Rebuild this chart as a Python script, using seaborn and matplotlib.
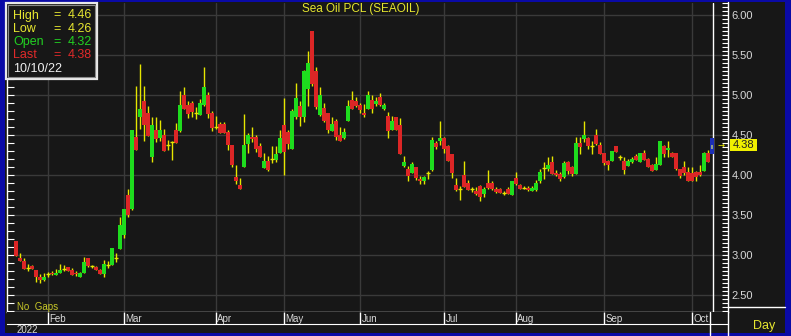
import numpy as np
import pandas as pd
import matplotlib
matplotlib.use("Agg")
import matplotlib.pyplot as plt
import seaborn as sns
from matplotlib.patches import Rectangle
from matplotlib.lines import Line2D
from matplotlib.ticker import MultipleLocator

# ---------------- data ----------------
title = "Sea Oil PCL (SEAOIL)"
holidays = ["2022-02-16", "2022-04-06", "2022-04-13", "2022-04-14", "2022-04-15",
            "2022-05-02", "2022-05-04", "2022-05-16", "2022-06-03", "2022-07-13",
            "2022-07-28", "2022-07-29", "2022-08-12"]
first_day = "2022-01-20"
last_day = "2022-10-10"

opens = [3.18, 2.96, 2.93, 2.84, 2.86, 2.81, 2.72, 2.69, 2.76, 2.78,
         2.75, 2.77, 2.82, 2.85, 2.81, 2.78, 2.73, 2.77, 2.96, 2.86,
         2.85, 2.81, 2.76, 2.88, 2.87, 2.96, 3.08, 3.25, 3.75, 3.58,
         4.47, 4.72, 4.92, 4.78, 4.23, 4.56, 4.46, 4.50, 4.38, 4.41,
         4.56, 4.55, 5.00, 4.87, 4.90, 4.77, 4.75, 4.87, 5.00, 4.77,
         4.60, 4.64, 4.64, 4.54, 4.38, 3.97, 3.88, 4.10, 4.39, 4.48,
         4.48, 4.36, 4.09, 4.18, 4.20, 4.19, 4.28, 4.63, 4.54, 4.33,
         4.72, 4.86, 4.72, 5.08, 5.80, 5.30, 4.75, 4.84, 4.77, 4.55,
         4.68, 4.50, 4.46, 4.67, 4.94, 4.93, 4.87, 4.78, 4.83, 4.94,
         4.89, 4.98, 4.83, 4.74, 4.56, 4.72, 4.63, 4.11, 4.07, 4.03,
         4.10, 3.95, 3.93, 4.02, 4.06, 4.40, 4.42, 4.46, 4.36, 4.26,
         3.88, 3.83, 4.00, 3.90, 3.82, 3.80, 3.86, 3.76, 3.90, 3.90,
         3.83, 3.83, 3.77, 3.83, 3.75, 3.96, 3.87, 3.84, 3.84, 3.80,
         3.81, 3.93, 4.09, 4.07, 4.16, 4.03, 4.01, 3.97, 4.16, 4.10,
         4.01, 4.40, 4.45, 4.46, 4.36, 4.50, 4.38, 4.27, 4.17, 4.17,
         4.36, 4.22, 4.17, 4.11, 4.16, 4.24, 4.16, 4.27, 4.20, 4.13,
         4.06, 4.12, 4.36, 4.31, 4.28, 4.27, 4.08, 4.10, 4.04, 4.02,
         4.04, 4.04, 4.05, 4.28, 4.32]
highs = [3.18, 3.03, 2.96, 2.89, 2.88, 2.81, 2.76, 2.77, 2.79, 2.80,
         2.82, 2.89, 2.87, 2.85, 2.84, 2.80, 2.79, 2.97, 2.96, 2.88,
         2.86, 2.83, 2.94, 2.92, 3.09, 3.02, 3.48, 3.58, 3.83, 4.56,
         5.11, 5.39, 5.11, 4.86, 4.72, 4.72, 4.69, 4.58, 4.44, 4.42,
         4.65, 5.05, 5.10, 4.93, 4.92, 4.85, 4.95, 5.35, 5.04, 4.80,
         4.74, 4.66, 4.66, 4.56, 4.38, 4.13, 3.96, 4.76, 4.52, 4.60,
         4.50, 4.40, 4.28, 4.24, 4.36, 4.36, 4.56, 4.96, 4.56, 4.83,
         5.15, 4.93, 5.31, 5.55, 5.80, 5.35, 5.10, 4.90, 4.78, 4.73,
         4.70, 4.60, 4.59, 4.94, 5.05, 4.98, 4.90, 4.89, 5.05, 5.00,
         4.98, 5.03, 4.90, 4.79, 4.74, 4.73, 4.71, 4.24, 4.11, 4.16,
         4.10, 3.99, 3.99, 4.05, 4.48, 4.42, 4.68, 4.47, 4.38, 4.26,
         3.96, 3.86, 4.18, 3.94, 3.85, 3.85, 3.87, 3.85, 4.06, 3.92,
         3.85, 3.84, 3.80, 3.85, 3.93, 4.04, 3.89, 3.86, 3.86, 3.86,
         3.94, 4.08, 4.16, 4.23, 4.24, 4.06, 4.04, 4.18, 4.18, 4.11,
         4.48, 4.48, 4.68, 4.48, 4.43, 4.57, 4.41, 4.28, 4.19, 4.30,
         4.36, 4.25, 4.23, 4.20, 4.23, 4.26, 4.27, 4.31, 4.21, 4.14,
         4.23, 4.43, 4.37, 4.43, 4.29, 4.28, 4.08, 4.18, 4.10, 4.10,
         4.05, 4.13, 4.29, 4.31, 4.46]
lows = [2.99, 2.92, 2.82, 2.80, 2.82, 2.66, 2.65, 2.68, 2.72, 2.75,
        2.75, 2.77, 2.80, 2.80, 2.75, 2.74, 2.73, 2.77, 2.85, 2.84,
        2.81, 2.76, 2.73, 2.84, 2.87, 2.91, 3.07, 3.21, 3.48, 3.56,
        4.31, 4.58, 4.42, 4.49, 4.16, 4.41, 4.42, 4.30, 4.31, 4.19,
        4.40, 4.54, 4.82, 4.71, 4.72, 4.70, 4.75, 4.86, 4.71, 4.55,
        4.57, 4.53, 4.53, 4.31, 4.10, 3.89, 3.83, 4.10, 4.27, 4.41,
        4.29, 4.22, 4.09, 4.05, 4.15, 4.16, 4.27, 4.00, 4.33, 4.33,
        4.70, 4.61, 4.66, 4.86, 5.11, 4.82, 4.74, 4.66, 4.53, 4.55,
        4.44, 4.43, 4.45, 4.67, 4.82, 4.85, 4.78, 4.72, 4.83, 4.78,
        4.86, 4.86, 4.81, 4.46, 4.56, 4.56, 4.26, 4.10, 3.93, 4.03,
        3.94, 3.89, 3.89, 3.95, 4.05, 4.32, 4.38, 4.28, 4.17, 3.96,
        3.80, 3.69, 3.85, 3.81, 3.79, 3.75, 3.67, 3.73, 3.83, 3.81,
        3.78, 3.77, 3.75, 3.76, 3.75, 3.88, 3.82, 3.82, 3.80, 3.80,
        3.80, 3.90, 3.95, 4.05, 4.01, 3.99, 3.93, 3.96, 4.01, 3.99,
        4.01, 4.26, 4.41, 4.33, 4.26, 4.38, 4.26, 4.13, 4.06, 4.17,
        4.29, 4.19, 4.01, 4.11, 4.15, 4.19, 4.16, 4.19, 4.10, 4.05,
        4.06, 4.12, 4.22, 4.22, 4.23, 4.06, 3.96, 4.00, 3.92, 3.92,
        3.93, 3.99, 4.05, 4.16, 4.26]
closes = [2.99, 2.93, 2.83, 2.84, 2.82, 2.72, 2.69, 2.73, 2.76, 2.76,
          2.78, 2.81, 2.82, 2.80, 2.75, 2.76, 2.78, 2.91, 2.86, 2.86,
          2.81, 2.76, 2.89, 2.88, 3.09, 2.96, 3.38, 3.58, 3.50, 4.56,
          4.31, 4.82, 4.62, 4.49, 4.62, 4.45, 4.56, 4.30, 4.38, 4.41,
          4.40, 4.88, 4.83, 4.76, 4.79, 4.77, 4.90, 5.10, 4.76, 4.59,
          4.60, 4.53, 4.53, 4.37, 4.12, 3.92, 3.83, 4.38, 4.50, 4.45,
          4.32, 4.23, 4.18, 4.06, 4.20, 4.26, 4.46, 4.29, 4.39, 4.80,
          4.96, 4.72, 5.30, 5.40, 5.14, 4.85, 5.00, 4.67, 4.56, 4.64,
          4.47, 4.43, 4.54, 4.86, 4.82, 4.86, 4.81, 4.75, 5.00, 4.82,
          4.93, 4.87, 4.88, 4.55, 4.68, 4.56, 4.26, 4.16, 3.99, 4.14,
          3.96, 3.92, 3.97, 4.02, 4.44, 4.35, 4.46, 4.32, 4.17, 4.03,
          3.81, 3.83, 3.85, 3.81, 3.82, 3.76, 3.72, 3.83, 3.84, 3.82,
          3.79, 3.77, 3.77, 3.76, 3.93, 3.89, 3.83, 3.84, 3.81, 3.84,
          3.90, 4.04, 4.09, 4.13, 4.01, 4.00, 3.95, 4.15, 4.05, 4.01,
          4.40, 4.35, 4.50, 4.36, 4.36, 4.39, 4.26, 4.15, 4.13, 4.30,
          4.29, 4.22, 4.06, 4.17, 4.20, 4.19, 4.27, 4.19, 4.10, 4.05,
          4.14, 4.43, 4.26, 4.34, 4.23, 4.08, 3.99, 4.02, 3.93, 3.93,
          3.98, 4.00, 4.28, 4.16, 4.38]
price_ticks = [2.5, 3.0, 3.5, 4.0, 4.5, 5.0, 5.5, 6.0]

dates = pd.bdate_range(first_day, last_day, freq="C", holidays=holidays)
assert len(dates) == len(opens) == len(highs) == len(lows) == len(closes)

# ---------------- style ----------------
BLUE = "#0a0aa6"
BG = "#171717"
GRID = "#3a3a3a"
GREEN = "#1edc1e"
RED = "#dc2626"
WICK = "#e6e600"
TXT = "#d8d8d8"

sns.set_style("dark", rc={"axes.facecolor": BG, "figure.facecolor": BLUE,
                          "grid.color": GRID})
plt.rcParams["font.family"] = ["Liberation Sans", "DejaVu Sans"]

W, H = 791, 336
fig = plt.figure(figsize=(W / 100, H / 100), dpi=100, facecolor=BLUE)


def fx(px):
    return px / W


def fy(py):
    return 1 - py / H


def pline(x0, y0, x1, y1, color="white", lw=1.0, z=6):
    fig.add_artist(Line2D([fx(x0), fx(x1)], [fy(y0), fy(y1)], transform=fig.transFigure,
                          color=color, lw=lw, zorder=z))


# dark panel
fig.add_artist(Rectangle((fx(5), fy(333)), (785 - 5) / W, (333 - 2) / H,
                         transform=fig.transFigure, facecolor=BG, edgecolor="none", zorder=-5))

# main axes
ax = fig.add_axes([fx(7), fy(312), (728 - 7) / W, (312 - 3) / H])
ax.set_facecolor(BG)
n = len(opens)
x = np.arange(n)
o = np.array(opens); h = np.array(highs); l = np.array(lows); c = np.array(closes)

ax.set_xlim(-2.25, 178)
ax.set_ylim(2.2875, 6.15)

month_start = [i for i in range(1, n) if dates[i].month != dates[i - 1].month]
month_names = [dates[i].strftime("%b") for i in month_start]

ax.set_xticks(month_start)
ax.set_yticks(price_ticks)
ax.grid(True, color=GRID, lw=1)
ax.tick_params(axis="x", bottom=False, labelbottom=False)
ax.yaxis.set_minor_locator(MultipleLocator(0.1))
ax.tick_params(axis="y", which="both", left=True, direction="in", length=5,
               color="white", width=0.8, labelleft=False)
for s in ["top", "right"]:
    ax.spines[s].set_visible(False)
for s in ["left", "bottom"]:
    ax.spines[s].set_color("white")
    ax.spines[s].set_linewidth(1)

# right price axis
ax2 = ax.twinx()
ax2.set_ylim(ax.get_ylim())
ax2.set_yticks(price_ticks)
ax2.set_yticklabels([f"{v:.2f}" for v in price_ticks])
ax2.yaxis.set_minor_locator(MultipleLocator(0.05))
ax2.tick_params(axis="y", which="both", right=True, direction="in", length=4,
                color="white", width=0.8, labelcolor=TXT, labelsize=8, pad=2.7)
ax2.grid(False)
for s in ["top", "left", "bottom", "right"]:
    ax2.spines[s].set_visible(False)

# candles
body = c[:-1] - o[:-1]
doji = np.abs(body) < 0.005
up = (body > 0) & ~doji
dn = (body < 0) & ~doji
xs = x[:-1]
ax.vlines(xs, l[:-1], h[:-1], color=WICK, lw=1, zorder=3)
ax.bar(xs[up], body[up], bottom=o[:-1][up], width=0.8, color=GREEN, linewidth=0, zorder=4)
ax.bar(xs[dn], -body[dn], bottom=c[:-1][dn], width=0.8, color=RED, linewidth=0, zorder=4)
ax.hlines(c[:-1][doji], xs[doji] - 0.45, xs[doji] + 0.45, color=WICK, lw=1, zorder=4)
# selected (last) candle
ax.bar(x[-1:], h[-1:] - l[-1:], bottom=l[-1:], width=0.85, color="#1c2fb8", linewidth=0, zorder=5)
ax.bar(x[-1:], c[-1:] - o[-1:], bottom=o[-1:], width=0.5, color="#8fa08f", linewidth=0, zorder=6)
ax.axvline(x[-1] + 0.25, color="white", lw=1, zorder=4)

fig.text(fx(361), fy(3), title, ha="center", va="top", color="#e6e630", fontsize=8.5)

# month strip
axm = fig.add_axes([fx(7), fy(324), (728 - 7) / W, 12 / H], sharex=ax)
axm.set_facecolor(BG)
axm.set_ylim(0, 1)
axm.grid(False)
axm.tick_params(left=False, bottom=False, labelleft=False, labelbottom=False)
for s in ["top", "left", "right"]:
    axm.spines[s].set_visible(False)
axm.spines["bottom"].set_color("white")
axm.vlines(month_start, 0, 1, color="white", lw=1)
for i, name in zip(month_start, month_names):
    axm.text(i + 0.35, 0.42, name, color=TXT, fontsize=7, va="center", ha="left")
axm.axvline(x[-1] - 0.5, color="white", lw=1)

# frame lines outside axes
pline(728, 2, 728, 336)
pline(728, 307, 785, 307)
pline(710, 324, 710, 335)
fig.text(fx(17), fy(330), str(dates[0].year), color=TXT, fontsize=7, va="center", ha="left")
fig.text(fx(764), fy(326), "Day", color="#e6e630", fontsize=9, va="center", ha="center")
fig.text(fx(17), fy(307.5), "No  Gaps", color="#c8c828", fontsize=7, va="center", ha="left")

# current price marker
fig.add_artist(Rectangle((fx(730), fy(151)), 27 / W, 12 / H, transform=fig.transFigure,
                         facecolor="#f0f000", edgecolor="none", zorder=7))
fig.text(fx(743.5), fy(145), f"{c[-1]:.2f}", color="#202020", fontsize=8,
         ha="center", va="center", zorder=8)
fig.text(fx(720.5), fy(145), "→", color="#f0f000", fontsize=6, ha="center", va="center",
         family=["DejaVu Sans"], zorder=8)

# info box
fig.add_artist(Rectangle((fx(6), fy(79)), 91 / W, 76 / H, transform=fig.transFigure,
                         facecolor=BG, edgecolor="#e8e8e8", lw=1.6, zorder=7))
fig.add_artist(Rectangle((fx(8), fy(77)), 87 / W, 72 / H, transform=fig.transFigure,
                         facecolor="none", edgecolor="#8a8a8a", lw=0.8, zorder=7))
rows = [("High", f"{h[-1]:.2f}", "#e6e630"), ("Low", f"{l[-1]:.2f}", "#e6e630"),
        ("Open", f"{o[-1]:.2f}", "#22d022"), ("Last", f"{c[-1]:.2f}", "#e02a2a")]
for k, (lab, val, col) in enumerate(rows):
    yy = 15.5 + 13.2 * k
    fig.text(fx(13), fy(yy), lab, color=col, fontsize=9, va="center", ha="left", zorder=8)
    fig.text(fx(53), fy(yy), "=", color=col, fontsize=9, va="center", ha="left", zorder=8)
    fig.text(fx(68), fy(yy), val, color=col, fontsize=9, va="center", ha="left", zorder=8)
fig.text(fx(13), fy(68.5), dates[-1].strftime("%m/%d/%y"), color="#f0f0f0", fontsize=9,
         va="center", ha="left", zorder=8)

fig.savefig("out.png", dpi=100, facecolor=BLUE)
